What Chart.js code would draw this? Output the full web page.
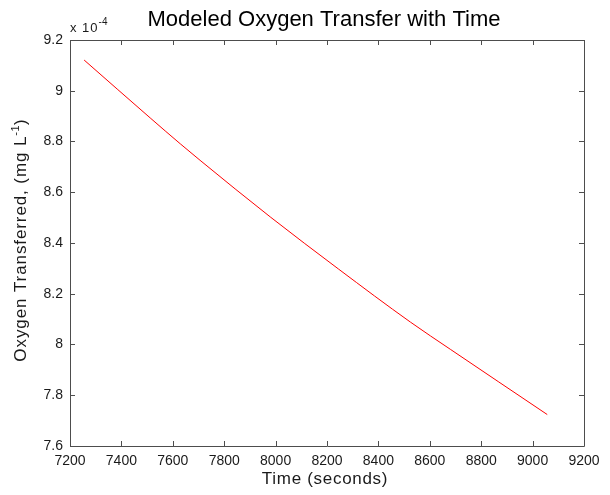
<!DOCTYPE html>
<html>
<head>
<meta charset="utf-8">
<script src="https://cdn.jsdelivr.net/npm/chart.js@4/dist/chart.umd.min.js"></script>
<style>
  html, body { margin: 0; padding: 0; background: #fff; }
  #wrap { width: 610px; height: 495px; }
</style>
</head>
<body>
<div id="wrap"><canvas id="oxygen" width="610" height="495"></canvas></div>
<script>
// time in seconds, oxygen in units of 1e-4 mg/L
const timeSeconds = [7255, 7512, 7629, 7706, 7979, 8244, 8525, 8680, 9057]
const oxygenE4 = [9.121, 8.893, 8.791, 8.726, 8.503, 8.298, 8.088, 7.981, 7.724]
const xTicks = [7200, 7400, 7600, 7800, 8000, 8200, 8400, 8600, 8800, 9000, 9200]
const yTicks = [7.6, 7.8, 8, 8.2, 8.4, 8.6, 8.8, 9, 9.2]

const titleText = 'Modeled Oxygen Transfer with Time'
const xTitle = 'Time (seconds)'
const yTitle = ['Oxygen Transferred, (mg L', '-1', ')']
const exponentText = ['x 10', '-4']

const FONT = '"Liberation Sans", Arial, Helvetica, sans-serif'
const AXIS_COLOR = '#4d4d4d'
const TEXT_COLOR = '#1a1a1a'

// draws the matlab style box, inward ticks and the texts with superscripts
const matlabAxes = {
  id: 'matlabAxes',
  afterDraw (chart) {
    const { ctx, chartArea: a, scales } = chart
    const tl = 5
    ctx.save()
    ctx.strokeStyle = AXIS_COLOR
    ctx.lineWidth = 1
    ctx.beginPath()
    ctx.rect(Math.round(a.left) + 0.5, Math.round(a.top) + 0.5,
      Math.round(a.right - a.left), Math.round(a.bottom - a.top))
    xTicks.forEach(v => {
      const px = Math.round(scales.x.getPixelForValue(v)) + 0.5
      ctx.moveTo(px, a.bottom); ctx.lineTo(px, a.bottom - tl)
      ctx.moveTo(px, a.top); ctx.lineTo(px, a.top + tl)
    })
    yTicks.forEach(v => {
      const py = Math.round(scales.y.getPixelForValue(v)) + 0.5
      ctx.moveTo(a.left, py); ctx.lineTo(a.left + tl, py)
      ctx.moveTo(a.right, py); ctx.lineTo(a.right - tl, py)
    })
    ctx.stroke()

    ctx.fillStyle = '#000'
    ctx.textBaseline = 'alphabetic'
    ctx.textAlign = 'center'
    ctx.font = `22px ${FONT}`
    ctx.fillText(titleText, (a.left + a.right) / 2 - 3, 26)

    ctx.fillStyle = TEXT_COLOR
    ctx.letterSpacing = '0.7px'
    ctx.font = `17px ${FONT}`
    ctx.fillText(xTitle, (a.left + a.right) / 2 - 2, 484)

    ctx.textAlign = 'left'
    ctx.letterSpacing = '1px'
    ctx.font = `13px ${FONT}`
    ctx.fillText(exponentText[0], a.left, 32)
    const w0 = ctx.measureText(exponentText[0]).width
    ctx.letterSpacing = '0px'
    ctx.font = `10px ${FONT}`
    ctx.fillText(exponentText[1], a.left + w0, 25)

    // y axis title, rotated, with superscript
    const big = `17px ${FONT}`, small = `11px ${FONT}`
    const sp = '0.9px'
    ctx.letterSpacing = sp
    ctx.font = big
    const wA = ctx.measureText(yTitle[0]).width
    const wC = ctx.measureText(yTitle[2]).width
    ctx.letterSpacing = '0.5px'
    ctx.font = small
    const wB = ctx.measureText(yTitle[1]).width
    const total = wA + wB + wC
    ctx.translate(26, 240)
    ctx.rotate(-Math.PI / 2)
    let x = -total / 2
    ctx.letterSpacing = sp
    ctx.font = big
    ctx.fillText(yTitle[0], x, 0)
    x += wA
    ctx.letterSpacing = '0.5px'
    ctx.font = small
    ctx.fillText(yTitle[1], x, -7)
    x += wB
    ctx.letterSpacing = sp
    ctx.font = big
    ctx.fillText(yTitle[2], x, 0)
    ctx.restore()
  }
}

const points = timeSeconds.map((t, i) => ({ x: t, y: oxygenE4[i] }))

new Chart(document.getElementById('oxygen'), {
  type: 'line',
  data: {
    datasets: [{
      data: points,
      borderColor: '#ff0000',
      borderWidth: 1,
      pointRadius: 0,
      cubicInterpolationMode: 'monotone',
      fill: false
    }]
  },
  options: {
    responsive: false,
    animation: false,
    layout: { padding: { top: 40, right: 26, left: 0, bottom: 0 } },
    plugins: { legend: { display: false }, tooltip: { enabled: false } },
    scales: {
      x: {
        type: 'linear',
        min: 7200,
        max: 9200,
        afterBuildTicks: s => { s.ticks = xTicks.map(v => ({ value: v })) },
        afterFit: s => { s.height = 49 },
        grid: { display: false, drawTicks: false },
        border: { display: false },
        ticks: {
          font: { family: FONT, size: 14 },
          color: TEXT_COLOR,
          padding: 7,
          maxRotation: 0,
          autoSkip: false,
          callback: v => String(v)
        }
      },
      y: {
        type: 'linear',
        min: 7.6,
        max: 9.2,
        afterBuildTicks: s => { s.ticks = yTicks.map(v => ({ value: v })) },
        afterFit: s => { s.width = 70 },
        grid: { display: false, drawTicks: false },
        border: { display: false },
        ticks: {
          font: { family: FONT, size: 14 },
          color: TEXT_COLOR,
          padding: 7,
          autoSkip: false,
          callback: v => String(parseFloat(v.toFixed(1)))
        }
      }
    }
  },
  plugins: [matlabAxes]
})
</script>
</body>
</html>
